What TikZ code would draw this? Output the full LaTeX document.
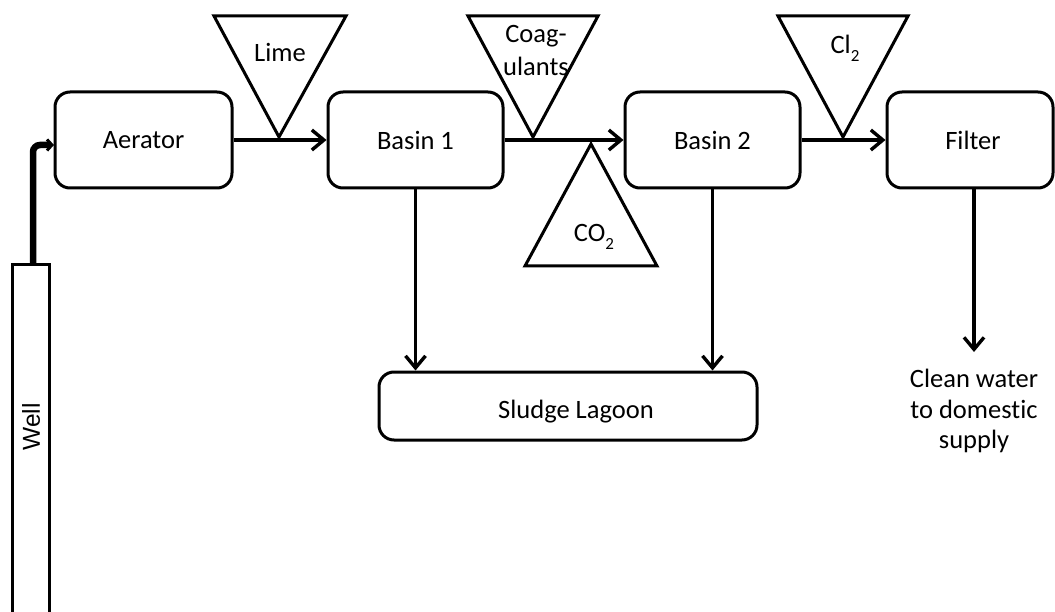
\documentclass[tikz,border=0pt]{standalone}
\usepackage{fontspec}
\setmainfont{Carlito}[Ligatures=NoCommon]
\newfontfamily\wellfont{Liberation Sans}
\usetikzlibrary{arrows.meta}
\newcommand{\subtwo}{\raisebox{-0.3em}{\fontsize{17}{17}\selectfont 2}}
\begin{document}
\begin{tikzpicture}[x=1pt,y=-1pt,
  box/.style={draw,line width=3pt,rounded corners=15pt,minimum height=96pt,font=\fontsize{26.5}{30}\selectfont,inner sep=0pt},
  lbl/.style={font=\fontsize{26.5}{30.5}\selectfont,inner sep=0pt,align=center},
  tri/.style={draw,line width=3pt,line join=miter},
  flow/.style={line width=3.4pt,-{Straight Barb[length=12pt,width=20pt,line width=3.4pt]}}]
\useasboundingbox (0,0) rectangle (1055,612);
% boxes
\node[box,minimum width=177pt] (aer) at (143.5,140) {Aerator};
\node[box,minimum width=175pt] (b1) at (415.5,140) {Basin 1};
\node[box,minimum width=175pt] (b2) at (712.5,140) {Basin 2};
\node[box,minimum width=166pt] (fil) at (970,140) {\hspace*{6pt}Filter};
\node[box,minimum width=378pt,minimum height=68pt] (sl) at (568,406) {\hspace*{16pt}\rule{0pt}{30pt}Sludge Lagoon};
% well
\draw[line width=3pt] (12,640) -- (12,265) -- (49,265) -- (49,640);
\node[font=\wellfont\fontsize{24.5}{24.5}\selectfont,rotate=90,inner sep=0pt] (well) at (31,427) {Well};
\coordinate (wtop) at (33,265);
\coordinate (ain) at (54,145);
\draw[line width=6.5pt,rounded corners=7pt,-{Straight Barb[length=5pt,width=11pt,line width=3pt]}] (wtop) -- (33,145) -- (ain);
% triangles
\coordinate (limeA) at (279,137);
\coordinate (coagA) at (533,137);
\coordinate (clA) at (843,137);
\draw[tri] (214,16) -- (346,16) -- (limeA) -- cycle;
\draw[tri] (468,16) -- (598,16) -- (coagA) -- cycle;
\draw[tri] (778,16) -- (908,16) -- (clA) -- cycle;
\draw[tri] (591,144) -- (657,266) -- (525,266) -- cycle;
\node[lbl] (lime) at (280,52) {Lime};
\node[lbl,align=center,font=\fontsize{26.5}{33}\selectfont] (coag) at (536,51) {Coag-\\ulants};
\node[lbl] (cl) at (845,48) {Cl\subtwo};
\node[lbl] (co) at (594,237) {CO\subtwo};
% flows
\draw[flow] (aer.east) -- (b1.west);
\draw[flow] (b1.east) -- (b2.west);
\draw[flow] (b2.east) -- (fil.west);
\draw[flow] (b1.south) -- (b1.south |- sl.north);
\draw[flow] (b2.south) -- (b2.south |- sl.north);
\coordinate (fend) at (974,352);
\draw[flow] (fil.south -| fend) -- (fend);
\node[lbl,anchor=north] (clean) at (974,369) {Clean water\\to domestic\\supply};
\end{tikzpicture}
\end{document}
